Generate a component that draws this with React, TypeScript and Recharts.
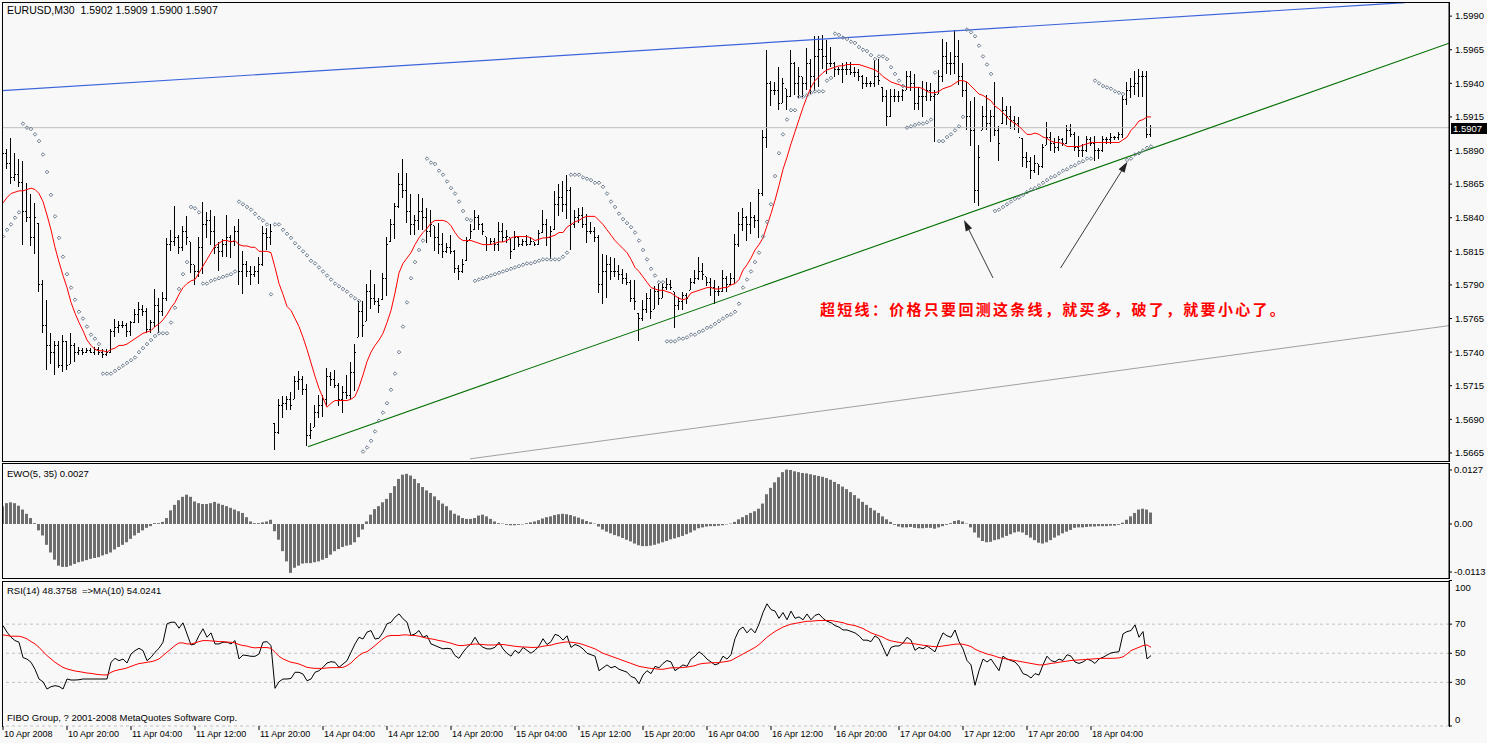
import { Bar, ComposedChart, Line, ReferenceLine, XAxis, YAxis } from "recharts";

// prices are stored in 1/10000 units (15907 = 1.5907)
const HIGH = [
  15894, 15891, 15899, 15888, 15884, 15882, 15866, 15858, 15851, 15836, 15794, 15779, 15754, 15748, 15748, 15753,
  15748, 15754, 15747, 15744, 15743, 15743, 15743, 15744, 15744, 15742, 15742, 15757, 15765, 15763, 15763, 15762,
  15763, 15772, 15777, 15775, 15773, 15764, 15787, 15780, 15785, 15825, 15831, 15849, 15827, 15834, 15841, 15822,
  15805, 15826, 15852, 15844, 15846, 15841, 15822, 15824, 15842, 15827, 15834, 15839, 15815, 15808, 15804, 15804,
  15811, 15834, 15832, 15835, 15687, 15705, 15707, 15707, 15710, 15722, 15726, 15722, 15716, 15687, 15701, 15708,
  15708, 15728, 15725, 15727, 15717, 15715, 15723, 15733, 15746, 15778, 15778, 15791, 15801, 15791, 15780, 15799,
  15826, 15839, 15851, 15873, 15884, 15873, 15858, 15842, 15858, 15855, 15847, 15846, 15834, 15836, 15829, 15821,
  15827, 15816, 15805, 15809, 15826, 15835, 15846, 15842, 15836, 15826, 15825, 15825, 15837, 15836, 15831, 15825,
  15830, 15826, 15824, 15827, 15826, 15822, 15831, 15846, 15839, 15834, 15860, 15865, 15867, 15872, 15863, 15846,
  15847, 15848, 15843, 15837, 15833, 15827, 15813, 15812, 15811, 15810, 15805, 15802, 15799, 15794, 15794, 15769,
  15779, 15784, 15787, 15789, 15791, 15791, 15795, 15794, 15785, 15781, 15785, 15784, 15795, 15801, 15811, 15806,
  15796, 15795, 15794, 15789, 15801, 15797, 15799, 15828, 15844, 15847, 15841, 15852, 15842, 15861, 15905, 15965,
  15942, 15941, 15952, 15944, 15936, 15965, 15956, 15952, 15945, 15966, 15958, 15975, 15975, 15976, 15972, 15967,
  15956, 15952, 15955, 15956, 15956, 15952, 15951, 15946, 15945, 15942, 15957, 15958, 15937, 15935, 15936, 15936,
  15934, 15936, 15949, 15949, 15947, 15937, 15942, 15941, 15940, 15935, 15950, 15973, 15971, 15963, 15980, 15972,
  15955, 15941, 15927, 15930, 15894, 15923, 15931, 15920, 15941, 15908, 15930, 15923, 15923, 15916, 15915, 15899,
  15889, 15885, 15887, 15880, 15895, 15911, 15904, 15899, 15901, 15899, 15909, 15910, 15904, 15901, 15895, 15901,
  15900, 15901, 15892, 15901, 15900, 15903, 15901, 15904, 15931, 15941, 15944, 15949, 15951, 15949, 15949, 15909,
];

const LOW = [
  15886, 15876, 15865, 15867, 15863, 15820, 15837, 15819, 15813, 15785, 15754, 15727, 15731, 15723, 15728, 15725,
  15727, 15731, 15733, 15738, 15738, 15739, 15739, 15738, 15738, 15736, 15737, 15739, 15751, 15754, 15758, 15751,
  15752, 15762, 15762, 15767, 15754, 15754, 15759, 15754, 15767, 15778, 15815, 15819, 15813, 15815, 15820, 15799,
  15790, 15796, 15798, 15825, 15820, 15813, 15800, 15811, 15811, 15810, 15819, 15790, 15783, 15796, 15790, 15796,
  15791, 15804, 15816, 15820, 15667, 15679, 15691, 15697, 15697, 15705, 15712, 15708, 15670, 15675, 15684, 15691,
  15692, 15700, 15715, 15713, 15700, 15695, 15705, 15705, 15711, 15751, 15751, 15763, 15772, 15775, 15769, 15779,
  15782, 15822, 15824, 15847, 15855, 15836, 15827, 15827, 15831, 15831, 15821, 15826, 15815, 15813, 15810, 15814,
  15813, 15799, 15794, 15799, 15808, 15824, 15831, 15831, 15827, 15815, 15820, 15815, 15815, 15822, 15821, 15809,
  15816, 15818, 15819, 15819, 15820, 15819, 15820, 15829, 15819, 15809, 15831, 15841, 15844, 15839, 15816, 15832,
  15836, 15832, 15821, 15828, 15822, 15784, 15776, 15780, 15794, 15796, 15794, 15791, 15790, 15777, 15771, 15748,
  15763, 15769, 15765, 15772, 15775, 15780, 15786, 15786, 15758, 15771, 15771, 15776, 15786, 15791, 15794, 15794,
  15789, 15782, 15776, 15782, 15785, 15785, 15790, 15791, 15818, 15830, 15823, 15828, 15832, 15825, 15856, 15892,
  15923, 15931, 15920, 15925, 15920, 15930, 15931, 15929, 15930, 15935, 15932, 15934, 15937, 15951, 15947, 15952,
  15945, 15946, 15940, 15946, 15946, 15945, 15942, 15936, 15937, 15937, 15937, 15939, 15926, 15908, 15915, 15926,
  15926, 15927, 15935, 15934, 15920, 15920, 15915, 15927, 15927, 15896, 15932, 15941, 15947, 15946, 15947, 15939,
  15930, 15905, 15893, 15851, 15849, 15905, 15905, 15896, 15901, 15882, 15910, 15909, 15906, 15905, 15903, 15878,
  15877, 15869, 15873, 15872, 15877, 15894, 15890, 15888, 15890, 15893, 15895, 15900, 15890, 15885, 15885, 15889,
  15893, 15882, 15884, 15889, 15895, 15895, 15898, 15898, 15899, 15924, 15929, 15931, 15930, 15930, 15899, 15900,
];

const CLOSE = [
  15888, 15880, 15870, 15872, 15866, 15845, 15840, 15825, 15840, 15790, 15760, 15745, 15740, 15745, 15730, 15748,
  15730, 15745, 15740, 15741, 15740, 15741, 15740, 15742, 15740, 15738, 15740, 15755, 15758, 15760, 15760, 15755,
  15762, 15768, 15772, 15770, 15757, 15762, 15775, 15770, 15780, 15820, 15822, 15825, 15818, 15830, 15825, 15805,
  15800, 15818, 15835, 15838, 15830, 15818, 15815, 15820, 15825, 15822, 15830, 15800, 15805, 15800, 15798, 15800,
  15805, 15828, 15825, 15830, 15680, 15700, 15702, 15705, 15700, 15718, 15720, 15712, 15678, 15682, 15695, 15700,
  15705, 15722, 15720, 15715, 15705, 15710, 15708, 15725, 15740, 15770, 15760, 15785, 15780, 15778, 15775, 15795,
  15820, 15835, 15848, 15865, 15860, 15845, 15835, 15838, 15845, 15840, 15830, 15835, 15825, 15820, 15815, 15818,
  15815, 15802, 15800, 15805, 15822, 15830, 15840, 15835, 15830, 15820, 15822, 15820, 15830, 15825, 15826, 15815,
  15825, 15820, 15822, 15820, 15822, 15820, 15828, 15835, 15825, 15830, 15850, 15855, 15850, 15860, 15835, 15840,
  15842, 15835, 15830, 15830, 15825, 15790, 15800, 15805, 15800, 15800, 15798, 15795, 15792, 15780, 15778, 15765,
  15772, 15780, 15770, 15785, 15780, 15788, 15790, 15788, 15775, 15778, 15782, 15780, 15792, 15795, 15800, 15798,
  15792, 15788, 15785, 15785, 15795, 15790, 15795, 15820, 15835, 15840, 15835, 15840, 15838, 15858, 15900, 15940,
  15935, 15935, 15925, 15940, 15930, 15955, 15940, 15945, 15940, 15955, 15945, 15960, 15965, 15960, 15955, 15955,
  15950, 15950, 15950, 15950, 15948, 15948, 15945, 15940, 15940, 15940, 15945, 15942, 15930, 15915, 15930, 15930,
  15930, 15935, 15945, 15940, 15925, 15930, 15930, 15935, 15930, 15932, 15945, 15960, 15955, 15955, 15960, 15945,
  15935, 15915, 15905, 15860, 15885, 15915, 15910, 15915, 15905, 15895, 15920, 15915, 15912, 15910, 15900, 15885,
  15882, 15875, 15880, 15878, 15892, 15900, 15895, 15892, 15898, 15895, 15905, 15902, 15892, 15890, 15890, 15898,
  15895, 15890, 15890, 15898, 15898, 15900, 15900, 15902, 15928, 15935, 15938, 15940, 15945, 15945, 15902, 15907,
];
const FIRST_OPEN = 15890;

const SAR = [
  15826, 15831, 15835, 15840, 15844, 15910, 15907, 15906, 15902, 15897, 15887, 15874, 15857, 15841, 15825, 15811,
  15798, 15788, 15779, 15770, 15765, 15759, 15753, 15750, 15746, 15724, 15724, 15724, 15726, 15728, 15730, 15732,
  15734, 15736, 15740, 15743, 15746, 15749, 15752, 15754, 15754, 15754, 15762, 15773, 15787, 15798, 15807, 15848,
  15847, 15844, 15791, 15791, 15793, 15794, 15795, 15796, 15797, 15798, 15800, 15852, 15850, 15848, 15846, 15843,
  15840, 15838, 15835, 15783, 15835, 15835, 15831, 15828, 15825, 15821, 15818, 15815, 15812, 15808, 15806, 15803,
  15800, 15797, 15794, 15791, 15789, 15787, 15785, 15782, 15780, 15778, 15666, 15669, 15674, 15681, 15689, 15695,
  15702, 15712, 15724, 15740, 15759, 15777, 15795, 15807, 15816, 15823, 15884, 15881, 15880, 15875, 15872, 15867,
  15862, 15858, 15852, 15845, 15839, 15838, 15793, 15794, 15795, 15796, 15797, 15798, 15799, 15800, 15801, 15802,
  15803, 15804, 15805, 15806, 15806, 15807, 15808, 15809, 15809, 15809, 15809, 15809, 15811, 15814, 15872, 15872,
  15872, 15870, 15869, 15868, 15866, 15866, 15863, 15858, 15852, 15848, 15843, 15839, 15836, 15833, 15829, 15823,
  15816, 15809, 15802, 15797, 15792, 15792, 15748, 15748, 15748, 15750, 15750, 15751, 15753, 15753, 15755, 15756,
  15758, 15759, 15761, 15763, 15765, 15767, 15768, 15770, 15776, 15788, 15794, 15800, 15807, 15814, 15826, 15837,
  15850, 15871, 15888, 15902, 15913, 15920, 15920, 15930, 15930, 15931, 15933, 15934, 15934, 15934, 15942, 15944,
  15977, 15976, 15974, 15973, 15971, 15970, 15967, 15965, 15964, 15961, 15958, 15960, 15960, 15958, 15952, 15947,
  15942, 15938, 15907, 15908, 15909, 15910, 15910, 15911, 15913, 15948, 15897, 15897, 15900, 15902, 15905, 15908,
  15915, 15980, 15978, 15975, 15968, 15960, 15954, 15947, 15845, 15846, 15848, 15850, 15852, 15854, 15855, 15857,
  15859, 15861, 15862, 15864, 15866, 15868, 15870, 15871, 15873, 15875, 15876, 15878, 15879, 15881, 15882, 15884,
  15884, 15942, 15940, 15938, 15937, 15936, 15934, 15933, 15932, 15883, 15884, 15887, 15888, 15890, 15892, 15893,
];

const MA = [
  15851, 15855, 15858, 15859, 15860, 15860, 15861, 15862, 15861, 15858, 15852, 15842, 15831, 15818, 15807, 15797,
  15788, 15777, 15769, 15762, 15756, 15749, 15745, 15742, 15741, 15741, 15740, 15742, 15743, 15745, 15745, 15746,
  15748, 15750, 15752, 15754, 15755, 15756, 15759, 15761, 15764, 15768, 15773, 15777, 15783, 15788, 15791, 15793,
  15794, 15799, 15804, 15809, 15814, 15819, 15821, 15823, 15823, 15822, 15823, 15820, 15819, 15819, 15818, 15818,
  15815, 15815, 15815, 15814, 15803, 15791, 15783, 15774, 15771, 15765, 15759, 15751, 15742, 15732, 15722, 15713,
  15706, 15699, 15702, 15704, 15704, 15704, 15704, 15705, 15707, 15714, 15723, 15733, 15740, 15745, 15749, 15754,
  15762, 15771, 15784, 15799, 15806, 15810, 15814, 15820, 15825, 15829, 15832, 15836, 15838, 15838, 15838, 15837,
  15834, 15829, 15825, 15823, 15823, 15823, 15822, 15821, 15820, 15820, 15820, 15821, 15822, 15822, 15823, 15825,
  15826, 15826, 15826, 15826, 15825, 15823, 15824, 15825, 15825, 15826, 15827, 15829, 15829, 15833, 15835, 15837,
  15838, 15840, 15841, 15841, 15841, 15838, 15835, 15831, 15827, 15823, 15820, 15817, 15814, 15809, 15803, 15800,
  15796, 15792, 15788, 15787, 15786, 15786, 15785, 15784, 15782, 15780, 15779, 15780, 15784, 15785, 15786, 15787,
  15788, 15788, 15787, 15787, 15788, 15788, 15790, 15791, 15794, 15801, 15805, 15810, 15816, 15820, 15825, 15834,
  15843, 15853, 15864, 15876, 15885, 15895, 15904, 15913, 15922, 15930, 15937, 15942, 15945, 15948, 15950, 15951,
  15952, 15953, 15953, 15954, 15954, 15954, 15954, 15953, 15952, 15951, 15950, 15948, 15945, 15943, 15941, 15940,
  15939, 15938, 15937, 15937, 15937, 15937, 15936, 15934, 15933, 15933, 15934, 15936, 15937, 15938, 15940, 15942,
  15942, 15941, 15938, 15935, 15932, 15931, 15929, 15927, 15923, 15921, 15918, 15915, 15912, 15910, 15908, 15905,
  15902, 15902, 15903, 15902, 15900, 15899, 15897, 15896, 15896, 15895, 15893, 15893, 15893, 15893, 15894, 15895,
  15896, 15896, 15896, 15896, 15896, 15896, 15896, 15896, 15898, 15900, 15905, 15908, 15912, 15913, 15915, 15915,
];

const EWO = [
  0.0042, 0.0049, 0.0051, 0.0049, 0.0043, 0.0034, 0.0024, 0.0014, 0.0002, -0.0015, -0.0027, -0.0049, -0.0067, -0.0084, -0.0098, -0.0101,
  -0.0101, -0.0098, -0.0094, -0.009, -0.0088, -0.0085, -0.0082, -0.008, -0.0078, -0.0074, -0.0071, -0.0067, -0.006, -0.0054, -0.0049, -0.0043,
  -0.0035, -0.0027, -0.0021, -0.0015, -0.0009, -0.0005, 0.0002, 0.0002, 0.0005, 0.0014, 0.0032, 0.0045, 0.0056, 0.0064, 0.0069, 0.0064,
  0.0053, 0.0049, 0.0047, 0.0047, 0.0049, 0.0052, 0.0048, 0.0045, 0.0042, 0.0038, 0.0034, 0.003, 0.0026, 0.0016, 0.0006, 0.0002,
  0.0002, 0.0004, 0.0006, 0.001, -0.0017, -0.0037, -0.0064, -0.0088, -0.0115, -0.0103, -0.0098, -0.0093, -0.0092, -0.0092, -0.009, -0.0088,
  -0.0084, -0.008, -0.0072, -0.0064, -0.0059, -0.0054, -0.0051, -0.0049, -0.0043, -0.0031, -0.0013, 0.0006, 0.0022, 0.0035, 0.0042, 0.0051,
  0.0059, 0.0073, 0.0089, 0.0106, 0.0116, 0.0118, 0.0114, 0.0106, 0.0096, 0.0087, 0.0079, 0.0073, 0.0065, 0.0056, 0.0048, 0.0042,
  0.0032, 0.0024, 0.002, 0.0014, 0.0012, 0.0012, 0.0014, 0.002, 0.0022, 0.0018, 0.0012, 0.0006, 0.0002, 0.0001, -0.0002, -0.0003,
  -0.0003, -0.0002, -0.0001, 0.0002, 0.0004, 0.0006, 0.0009, 0.0013, 0.0016, 0.0018, 0.0021, 0.0023, 0.0024, 0.0023, 0.0021, 0.0018,
  0.0015, 0.0011, 0.0007, 0.0004, 0.0001, -0.0006, -0.0013, -0.0018, -0.0022, -0.0026, -0.0029, -0.0033, -0.0037, -0.0041, -0.0046, -0.005,
  -0.0052, -0.0052, -0.0051, -0.0049, -0.0046, -0.0043, -0.004, -0.0036, -0.0034, -0.0031, -0.0028, -0.0024, -0.002, -0.0015, -0.001, -0.0008,
  -0.0006, -0.0005, -0.0005, -0.0004, -0.0003, -0.0001, 0.0001, 0.0005, 0.0011, 0.0016, 0.0021, 0.0026, 0.003, 0.0036, 0.0048, 0.007,
  0.0085, 0.0098, 0.011, 0.0122, 0.0128, 0.0127, 0.0124, 0.0122, 0.012, 0.0119, 0.0117, 0.0115, 0.0113, 0.0111, 0.0108, 0.0104,
  0.0099, 0.0094, 0.0088, 0.0082, 0.0075, 0.0068, 0.006, 0.0052, 0.0045, 0.0038, 0.0032, 0.0026, 0.0018, 0.0011, 0.0005, -0.0002,
  -0.0006, -0.0008, -0.0008, -0.0007, -0.0009, -0.001, -0.001, -0.0009, -0.0009, -0.0011, -0.0008, -0.0005, -0.0002, 0.0002, 0.0007, 0.0009,
  0.0006, 0.0001, -0.0008, -0.002, -0.0032, -0.004, -0.0043, -0.0042, -0.0038, -0.0036, -0.0032, -0.0028, -0.0024, -0.002, -0.0018, -0.002,
  -0.0026, -0.0032, -0.0038, -0.0044, -0.0046, -0.0043, -0.0038, -0.0032, -0.0027, -0.0022, -0.0018, -0.0014, -0.0009, -0.0008, -0.0008, -0.0007,
  -0.0006, -0.0006, -0.0005, -0.0005, -0.0005, -0.0004, -0.0004, -0.0002, 0.0003, 0.001, 0.0018, 0.0026, 0.0034, 0.0036, 0.0034, 0.0027,
];

const RSI = [
  69, 64.5, 61, 58.7, 57.6, 47, 46, 43.8, 39, 32.3, 30.4, 25.4, 27, 27.7, 27.2, 25.4,
  32.3, 31.6, 31.6, 31.8, 32.3, 32.3, 32.3, 32.3, 32.3, 32.3, 32.3, 43.8, 46.5, 44.9, 46, 43.3,
  49.5, 51.8, 53.4, 51.8, 44.9, 47.2, 50.7, 53.4, 57.6, 70.2, 71.3, 71.3, 67.2, 70.9, 63.3, 55.7,
  56.4, 62.2, 66.8, 61, 64, 56.4, 56.4, 57.6, 57.6, 56.4, 58.7, 46.1, 48.8, 48.4, 47.9, 47.9,
  49.5, 57.6, 58, 55.3, 25.9, 30.4, 32.3, 32.3, 32.7, 36.9, 36.9, 35.7, 31.1, 32.3, 36.9, 38,
  40.3, 43.3, 44.2, 43.8, 40.3, 42.6, 44.9, 50.7, 56.4, 61, 59.8, 64.5, 65.6, 59.8, 60.3, 64.5,
  70.2, 71.3, 74.8, 77.1, 73.7, 71.3, 62.2, 63.3, 65.6, 61, 62.2, 56.4, 55.3, 54.1, 53, 53.4,
  53, 48.4, 46.5, 50.7, 54.1, 56.4, 61, 56.4, 54.1, 53, 53, 54.1, 57.6, 53, 50, 48,
  52, 50, 54, 52, 50, 52, 55, 60, 56, 58, 63, 62, 59, 62, 54, 56,
  55, 53, 50, 49, 48, 38, 40, 42, 40, 41, 39, 38, 37, 34, 33, 29,
  35, 38, 36, 41, 40, 43, 45, 44, 38, 40, 42, 41, 46, 48, 51, 49,
  46, 44, 42, 43, 48, 46, 49, 60, 66, 68, 64, 67, 64, 70, 78, 84,
  80, 79, 74, 78, 73, 79, 74, 75, 73, 77, 73, 76, 77, 74, 72, 71,
  69, 68, 66, 66, 65, 64, 62, 59, 59, 58, 62, 60, 54, 48, 54, 55,
  55, 57, 61, 59, 52, 54, 53, 55, 53, 51, 58, 64, 62, 61, 66, 58,
  53, 45, 42, 28, 38, 46, 44, 46, 42, 38, 48, 46, 45, 44, 41, 36,
  35, 33, 36, 35, 42, 48, 45, 44, 46, 45, 49, 48, 44, 43, 44, 46,
  45, 43, 46.1, 47.2, 48.8, 50.2, 50.7, 51.1, 63.3, 64.9, 65.6, 69.5, 61, 64.9, 46.1, 48.4,
];

const RSI_MA = [
  62.6, 62.2, 61.7, 61.7, 61.7, 61, 59.9, 58, 56.4, 54.1, 51.1, 48.4, 46.1, 43.8, 42, 40.3,
  39.2, 38.5, 37.8, 37.4, 36.9, 36.4, 36.2, 35.7, 35.3, 35.1, 35.1, 36.9, 38, 38.7, 39.2, 39.9,
  41, 42, 42.9, 43.3, 43.8, 44.2, 44.9, 46.1, 48.4, 50.7, 53, 55.3, 57.1, 57.1, 56.4, 56.4,
  57.1, 58, 58.7, 58.7, 58.5, 58.3, 58, 58, 57.6, 57.6, 57.1, 56, 55.3, 54.9, 54.1, 53.7,
  53.9, 53.9, 53.9, 53.4, 50.7, 47.9, 46.1, 44.9, 43.8, 43.3, 42.6, 41.5, 40.3, 39.9, 39.6, 39.6,
  39.6, 39.9, 40.1, 40.1, 40.1, 40.3, 41.5, 43.3, 46.1, 48.4, 50.2, 51.1, 53, 55.3, 57.6, 59.9,
  61.7, 62.2, 62.2, 62.2, 62.6, 62.6, 62.2, 62.2, 61.7, 61, 60.3, 59.9, 59.4, 58.7, 58.3, 57.6,
  56.9, 56, 55.3, 55.3, 55.7, 56, 56.4, 56.2, 56, 55.7, 55.7, 55.7, 56, 56, 55.6, 55.2,
  54.8, 54.5, 54.3, 54.2, 54, 54, 54.2, 54.8, 55.2, 55.6, 56.4, 57, 57.4, 57.8, 57.6, 57.2,
  56.8, 56, 55, 54, 53, 51.5, 50, 49, 48, 47, 46, 45, 44, 43, 42, 41,
  40.5, 40, 39.6, 39.4, 39, 39, 39.5, 40, 40, 40, 40.2, 40.5, 41, 41.5, 42.5, 43,
  43.2, 43.5, 43.5, 43.6, 44, 44.4, 45, 46.5, 48, 49.5, 51, 52.5, 54, 56, 58.5, 61,
  63, 65, 66.5, 68, 69, 70, 70.5, 71, 71.5, 72, 72, 72.3, 72.5, 72.5, 72.5, 72.5,
  72, 71.5, 71, 70, 69.5, 69, 68, 67, 65.5, 64, 63, 62, 61, 59.5, 58.5, 58,
  57.5, 57, 57, 56.8, 56.4, 56, 55.5, 55.2, 54.8, 54.5, 54.6, 55, 55.4, 55.8, 56.2, 56.4,
  56.2, 55.5, 54.6, 52.8, 51.5, 50.5, 49.5, 48.8, 48, 47, 46.5, 46, 45.5, 45, 44.5, 44,
  43.5, 43, 42.5, 42, 42, 42.5, 43, 43.3, 43.8, 44.2, 44.6, 45, 45.2, 45.4, 45.6, 45.8,
  46, 46.2, 46.4, 46.5, 46.5, 46.5, 46.6, 46.8, 47.5, 49.5, 51.8, 53, 54.1, 55.3, 55.7, 54.1,
];

const X_TICKS = [0, 16, 32, 48, 64, 80, 96, 112, 128, 144, 160, 176, 192, 208, 224, 240, 256, 272];
const X_LABELS = [
  "10 Apr 2008", "10 Apr 20:00", "11 Apr 04:00", "11 Apr 12:00", "11 Apr 20:00", "14 Apr 04:00",
  "14 Apr 12:00", "14 Apr 20:00", "15 Apr 04:00", "15 Apr 12:00", "15 Apr 20:00", "16 Apr 04:00",
  "16 Apr 12:00", "16 Apr 20:00", "17 Apr 04:00", "17 Apr 12:00", "17 Apr 20:00", "18 Apr 04:00",
];
const PRICE_TICKS = [15665, 15690, 15715, 15740, 15765, 15790, 15815, 15840, 15865, 15890, 15915, 15940, 15965, 15990];
const EWO_TICKS = [-0.0113, 0, 0.0127];
const RSI_TICKS = [0, 30, 50, 70, 100];
const RSI_LEVELS = [70, 50, 30, 0];
const LAST_PRICE = 15907;

// hand drawn objects on the chart, in [bar index, price] pairs
const BLUE_LINE = [{ x: -0.25, y: 15934.5 }, { x: 350.5, y: 16000.1 }];
const GREEN_LINE = [{ x: 76.25, y: 15669.6 }, { x: 361.5, y: 15969.8 }];
const GRAY_LINE = [{ x: 116.75, y: 15660.6 }, { x: 361.5, y: 15759.7 }];
const ARROW_1 = [{ x: 247.5, y: 15795.2 }, { x: 240.25, y: 15838.3 }];
const ARROW_2 = [{ x: 264.4, y: 15802.6 }, { x: 281.1, y: 15881.7 }];

const W = 1487;
const X_DOMAIN: [number, number] = [-0.25, 361.5];
const FONT = "'Liberation Sans', Arial, sans-serif";
const BG = "#f8f8f8";

const rows = HIGH.map((h, i) => {
  const l = LOW[i];
  const prev = i === 0 ? FIRST_OPEN : CLOSE[i - 1];
  return {
    i, h, l, c: CLOSE[i],
    o: Math.min(h, Math.max(l, prev)),
    sar: SAR[i], ma: MA[i], ewo: EWO[i], rsi: RSI[i], rsiMa: RSI_MA[i],
  };
});

const fmtPrice = (v: number) => (v / 10000).toFixed(4);

function OhlcShape(props: any) {
  const { x, y, width, height, payload } = props;
  if (x == null || payload == null) return null;
  const top = Math.min(y, y + height);
  const bot = Math.max(y, y + height);
  const span = payload.h - payload.l;
  const py = (p: number) => (span === 0 ? top : top + ((payload.h - p) / span) * (bot - top));
  const cx = Math.round(x + width / 2 - 0.5);
  return (
    <g>
      <rect x={cx} y={Math.round(top)} width={1} height={Math.max(1, Math.round(bot) - Math.round(top))} fill="#000" />
      <rect x={cx - 1} y={Math.round(py(payload.o) - 0.5)} width={1} height={1} fill="#000" />
      <rect x={cx + 1} y={Math.round(py(payload.c) - 0.5)} width={1} height={1} fill="#000" />
    </g>
  );
}

function sarDot(props: any) {
  const { cx, cy, index } = props;
  if (cx == null || cy == null) return <g key={`s${index}`} />;
  const r = 1.8;
  return (
    <path
      key={`s${index}`}
      d={`M${cx},${cy - r}L${cx + r},${cy}L${cx},${cy + r}L${cx - r},${cy}Z`}
      fill="none"
      stroke="#6c7c8e"
      strokeWidth={1}
    />
  );
}

function ArrowShape(props: any) {
  const { x1, y1, x2, y2 } = props;
  if (x1 == null) return null;
  const a = Math.atan2(y2 - y1, x2 - x1);
  const len = 11;
  const half = 3.5;
  const bx = x2 - len * Math.cos(a);
  const by = y2 - len * Math.sin(a);
  const px = -Math.sin(a) * half;
  const py = Math.cos(a) * half;
  return (
    <g>
      <line x1={x1} y1={y1} x2={bx} y2={by} stroke="#3a3a3a" strokeWidth={1} />
      <path d={`M${x2},${y2}L${bx + px},${by + py}L${bx - px},${by - py}Z`} fill="#222" />
    </g>
  );
}

function XTick(props: any) {
  const { x, y, payload } = props;
  const idx = X_TICKS.indexOf(payload.value);
  return (
    <text x={x + 1} y={y + 6} textAnchor="start" fontSize={9} fontFamily={FONT} fill="#000">
      {X_LABELS[idx]}
    </text>
  );
}

function RsiTick(props: any) {
  const { x, y, payload } = props;
  const v = payload.value;
  const dy = v === 100 ? 7 : v === 0 ? -6 : 0;
  return (
    <text x={x} y={y + dy} dy={3} textAnchor="start" fontSize={9.5} fontFamily={FONT} fill="#000">
      {v}
    </text>
  );
}

const axisTick = { fill: "#000", fontSize: 9.5, fontFamily: FONT };

function Label({ left, top, children, style }: any) {
  return (
    <div
      style={{
        position: "absolute", left, top, fontFamily: FONT, fontSize: 9.5, lineHeight: "11px",
        whiteSpace: "pre", color: "#000", pointerEvents: "none", ...style,
      }}
    >
      {children}
    </div>
  );
}

function Box({ top, height, noBottom }: any) {
  return (
    <div
      style={{
        position: "absolute", left: 2, top, width: 1448, height, boxSizing: "border-box",
        border: "1px solid #000", borderBottom: noBottom ? "none" : "1px solid #000", pointerEvents: "none",
      }}
    />
  );
}

export default function App() {
  return (
    <div style={{ position: "absolute", left: 0, top: 0, width: W, height: 743, background: BG, overflow: "hidden" }}>
      <div style={{ position: "absolute", left: 0, top: 0 }}>
        <ComposedChart width={W} height={462} data={rows} margin={{ top: 2, right: 0, bottom: 1, left: 2 }}>
          <XAxis type="number" dataKey="i" domain={X_DOMAIN} allowDataOverflow hide />
          <YAxis
            orientation="right" width={38} domain={[15659, 16000.5]} allowDataOverflow ticks={PRICE_TICKS}
            interval={0} tickFormatter={fmtPrice} tickSize={3} tickMargin={3} tick={axisTick}
            axisLine={{ stroke: "#000" }} tickLine={{ stroke: "#000" }}
          />
          <ReferenceLine y={LAST_PRICE} stroke="#c0c0c0" />
          <ReferenceLine segment={BLUE_LINE} stroke="#3c64dc" strokeWidth={1.2} ifOverflow="hidden" />
          <ReferenceLine segment={GRAY_LINE} stroke="#a0a0a0" ifOverflow="hidden" />
          <ReferenceLine segment={GREEN_LINE} stroke="#007000" strokeWidth={1.1} ifOverflow="hidden" />
          <Bar dataKey={(d: any) => [d.l, d.h]} shape={OhlcShape} barSize={3} isAnimationActive={false} />
          <Line dataKey="ma" type="linear" stroke="#ff0000" strokeWidth={1} dot={false} activeDot={false} isAnimationActive={false} />
          <Line dataKey="sar" stroke="none" dot={sarDot} activeDot={false} isAnimationActive={false} />
          <ReferenceLine segment={ARROW_1} shape={ArrowShape} ifOverflow="visible" />
          <ReferenceLine segment={ARROW_2} shape={ArrowShape} ifOverflow="visible" />
        </ComposedChart>
      </div>

      <div style={{ position: "absolute", left: 0, top: 463 }}>
        <ComposedChart width={W} height={116} data={rows} margin={{ top: 0, right: 0, bottom: 0, left: 2 }}>
          <XAxis type="number" dataKey="i" domain={X_DOMAIN} allowDataOverflow hide />
          <YAxis
            orientation="right" width={38} domain={[-0.01294, 0.01435]} allowDataOverflow ticks={EWO_TICKS}
            interval={0} tickFormatter={(v: number) => (v === 0 ? "0.00" : v.toFixed(4))} tickSize={3}
            tickMargin={2} tick={axisTick} axisLine={{ stroke: "#000" }} tickLine={{ stroke: "#000" }}
          />
          <Bar dataKey="ewo" fill="#6e6e6e" barSize={3} isAnimationActive={false} />
        </ComposedChart>
      </div>

      <div style={{ position: "absolute", left: 0, top: 580 }}>
        <ComposedChart width={W} height={163} data={rows} margin={{ top: 0.5, right: 0, bottom: 0, left: 2 }}>
          <XAxis
            type="number" dataKey="i" domain={X_DOMAIN} allowDataOverflow ticks={X_TICKS} interval={0}
            tick={XTick} tickSize={4} tickMargin={1} height={17} axisLine={false} tickLine={{ stroke: "#000" }}
          />
          <YAxis
            orientation="right" width={38} domain={[0, 100]} ticks={RSI_TICKS} interval={0} tick={RsiTick}
            tickSize={3} tickMargin={3} axisLine={{ stroke: "#000" }} tickLine={{ stroke: "#000" }}
          />
          {RSI_LEVELS.map((v) => (
            <ReferenceLine key={v} y={v} stroke="#c0c0c0" strokeDasharray="3 3" />
          ))}
          <Line dataKey="rsi" type="linear" stroke="#000" strokeWidth={1} dot={false} activeDot={false} isAnimationActive={false} />
          <Line dataKey="rsiMa" type="linear" stroke="#ff0000" strokeWidth={1} dot={false} activeDot={false} isAnimationActive={false} />
        </ComposedChart>
      </div>

      <Box top={2} height={460} />
      <Box top={463} height={116} />
      <Box top={581} height={146} noBottom />

      <Label left={7} top={5} style={{ fontSize: 10.5 }}>{"EURUSD,M30  1.5902 1.5909 1.5900 1.5907"}</Label>
      <Label left={7} top={468}>{"EWO(5, 35) 0.0027"}</Label>
      <Label left={7} top={585}>{"RSI(14) 48.3758  =>MA(10) 54.0241"}</Label>
      <Label left={7} top={712}>{"FIBO Group, ? 2001-2008 MetaQuotes Software Corp."}</Label>
      <Label left={1451} top={123} style={{ background: "#000", color: "#fff", width: 34, height: 11, paddingLeft: 2, fontSize: 9.5 }}>
        {"1.5907"}
      </Label>
      <div
        style={{
          position: "absolute", left: 820, top: 301, color: "#ff0000", fontWeight: "bold", fontSize: 15,
          letterSpacing: 2.3, lineHeight: "16px", whiteSpace: "nowrap",
          fontFamily: "'Noto Sans CJK SC', 'Noto Sans', sans-serif",
        }}
      >
        超短线：价格只要回测这条线，就买多，破了，就要小心了。
      </div>
    </div>
  );
}
